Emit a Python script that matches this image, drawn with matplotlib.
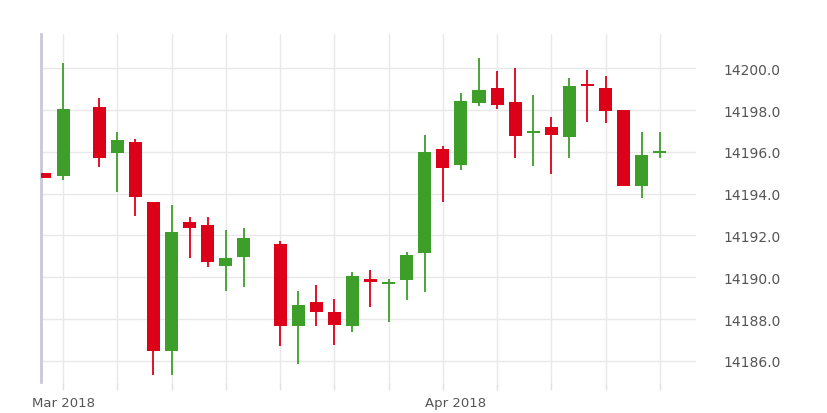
import matplotlib
matplotlib.use("Agg")
import matplotlib.pyplot as plt
import numpy as np

idx = [0, 1, 3, 4, 5, 6, 7, 8, 9, 10, 11, 13, 14, 15, 16, 17, 18, 19, 20, 21, 22, 23, 24,
       25, 26, 27, 28, 29, 30, 31, 32, 33, 34]
opens = [14195.0, 14194.83, 14198.16, 14195.96, 14196.49, 14193.62, 14186.49, 14192.63, 14192.52,
         14190.56, 14190.96, 14191.59, 14187.66, 14188.80, 14188.33, 14187.66, 14189.92, 14189.68,
         14189.89, 14191.16, 14196.14, 14195.37, 14198.34, 14199.06, 14198.37, 14196.92, 14197.18,
         14196.71, 14199.26, 14199.06, 14198.02, 14194.38, 14195.93]
closes = [14194.75, 14198.05, 14195.71, 14196.58, 14193.84, 14186.49, 14192.18, 14192.34, 14190.72,
          14190.91, 14191.88, 14187.66, 14188.67, 14188.35, 14187.72, 14190.05, 14189.79, 14189.79,
          14191.08, 14195.98, 14195.23, 14198.45, 14198.98, 14198.24, 14196.78, 14197.02, 14196.81,
          14199.17, 14199.15, 14197.96, 14194.38, 14195.85, 14196.03]
highs = [14195.0, 14200.25, 14198.56, 14196.97, 14196.62, 14193.62, 14193.47, 14192.90, 14192.90,
         14192.26, 14192.36, 14191.72, 14189.36, 14189.63, 14188.96, 14190.24, 14190.36, 14189.92,
         14191.22, 14196.81, 14196.30, 14198.82, 14200.48, 14199.89, 14200.01, 14198.74, 14197.68,
         14199.52, 14199.93, 14199.62, 14198.02, 14196.94, 14196.97]
lows = [14194.75, 14194.67, 14195.29, 14194.07, 14192.95, 14185.33, 14185.33, 14190.92, 14190.48,
        14189.36, 14189.55, 14186.73, 14185.85, 14187.68, 14186.78, 14187.37, 14188.56, 14187.85,
        14188.93, 14189.31, 14193.62, 14195.15, 14198.18, 14198.05, 14195.69, 14195.31, 14194.93,
        14195.69, 14197.44, 14197.38, 14194.38, 14193.79, 14195.69]
month_labels = ["Mar 2018", "Apr 2018"]
month_pos = [1, 22.7]
yticks = [14186.0, 14188.0, 14190.0, 14192.0, 14194.0, 14196.0, 14198.0, 14200.0]

UP, DOWN = "#3d9f2a", "#dc0019"

fig = plt.figure(figsize=(8.28, 4.14), dpi=100)
ax = fig.add_axes([41/828, 1-383/414, (696-41)/828, (383-35)/414])

x = np.array(idx, float)
o = np.array(opens); c = np.array(closes)
colors = [UP if cc >= oo else DOWN for oo, cc in zip(o, c)]
ax.vlines(x, lows, highs, colors=colors, linewidth=1.3, zorder=2)
bottom = np.minimum(o, c)
height = np.maximum(np.abs(c - o), 0.1)
ax.bar(x, height, bottom=bottom, width=0.72, color=colors, zorder=3)

ax.set_xlim(-0.22, 36.0)
ax.set_ylim(14184.99, 14201.64)

ax.set_xticks(np.arange(1, 36, 3))
ax.set_xticklabels([])
ax.tick_params(axis="x", which="major", length=6, color="#e0e0e0", width=1)
for p, lab in zip(month_pos, month_labels):
    ax.text(p, -0.04, lab, transform=ax.get_xaxis_transform(), ha="center", va="top",
            fontsize=9.5, color="#555555")

ax.set_yticks(yticks)
ax.set_yticklabels([f"{v:.1f}" for v in yticks])
ax.yaxis.tick_right()
ax.tick_params(axis="y", length=0, pad=20, labelsize=10, labelcolor="#555555")

ax.grid(True, which="major", color="#e8e8e8", linewidth=1, zorder=0)
for s in ["top", "right", "bottom"]:
    ax.spines[s].set_visible(False)
ax.spines["left"].set_color("#c8c8dc")
ax.spines["left"].set_linewidth(2)

fig.savefig("out.png", dpi=100)
